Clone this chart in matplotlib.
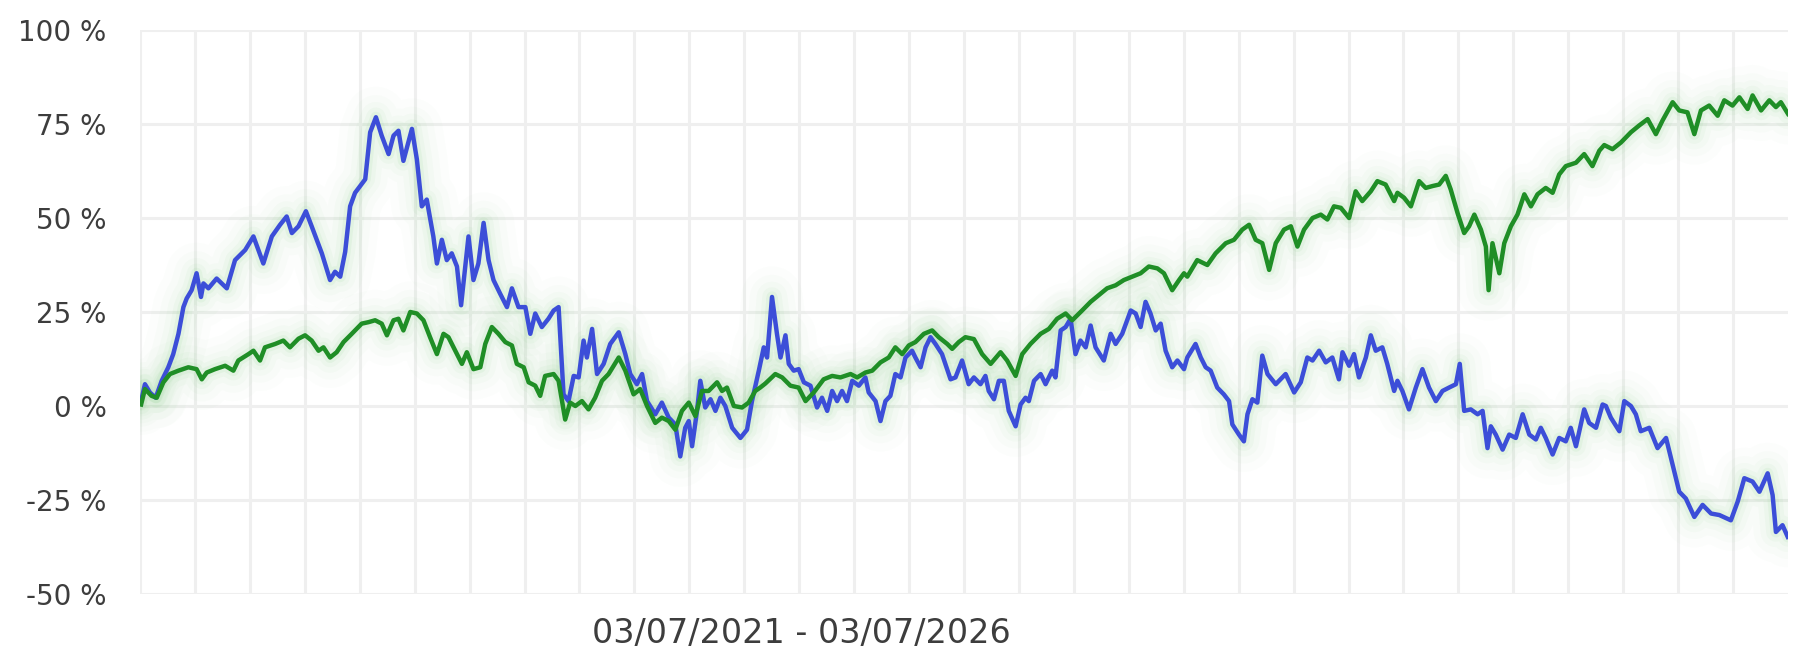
import matplotlib
matplotlib.use("Agg")
import matplotlib.pyplot as plt

# months since 03/07/2021 and cumulative return (%)
blue_t = [0.04, 0.18, 0.36, 0.57, 0.79, 1.03, 1.21, 1.40, 1.58, 1.70, 1.88, 2.06, 2.22, 2.31, 2.49,
          2.79, 3.16, 3.46, 3.83, 4.13, 4.49, 4.80, 5.10, 5.34, 5.53, 5.77, 6.04, 6.25, 6.62, 6.92,
          7.10, 7.29, 7.47, 7.65, 7.83, 8.20, 8.38, 8.59, 8.80, 9.05, 9.23, 9.41, 9.59, 9.90, 10.08,
          10.26, 10.44, 10.68, 10.81, 10.99, 11.17, 11.35, 11.54, 11.69, 11.96, 12.14, 12.32, 12.51,
          12.69, 12.87, 13.11, 13.36, 13.54, 13.78, 14.03, 14.21, 14.39, 14.63, 14.87, 15.06, 15.24,
          15.42, 15.60, 15.79, 15.97, 16.15, 16.27, 16.46, 16.64, 16.88, 17.12, 17.43, 17.67, 17.85,
          18.09, 18.28, 18.46, 18.76, 19.00, 19.25, 19.49, 19.67, 19.85, 19.98, 20.10, 20.28, 20.40,
          20.58, 20.77, 20.95, 21.13, 21.31, 21.56, 21.86, 22.10, 22.28, 22.53, 22.71, 22.83, 23.01,
          23.19, 23.32, 23.50, 23.62, 23.80, 23.98, 24.17, 24.41, 24.65, 24.83, 25.02, 25.20, 25.38,
          25.56, 25.74, 25.93, 26.17, 26.41, 26.53, 26.78, 26.96, 27.14, 27.32, 27.50, 27.69, 27.87,
          28.11, 28.23, 28.42, 28.60, 28.78, 28.96, 29.20, 29.51, 29.69, 29.93, 30.17, 30.36, 30.60,
          30.78, 30.90, 31.09, 31.27, 31.45, 31.63, 31.88, 32.06, 32.24, 32.36, 32.55, 32.79, 32.97,
          33.21, 33.33, 33.52, 33.70, 33.88, 34.06, 34.24, 34.43, 34.61, 34.79, 35.09, 35.34, 35.52,
          35.76, 36.07, 36.25, 36.43, 36.61, 36.79, 36.98, 37.16, 37.34, 37.58, 37.77, 38.01, 38.13,
          38.43, 38.62, 38.80, 38.98, 39.22, 39.46, 39.65, 39.77, 40.01, 40.19, 40.32, 40.50, 40.68,
          40.86, 41.05, 41.35, 41.71, 42.02, 42.26, 42.50, 42.69, 42.93, 43.17, 43.41, 43.65, 43.78,
          44.02, 44.20, 44.38, 44.63, 44.81, 44.99, 45.23, 45.41, 45.66, 45.78, 45.96, 46.20, 46.45,
          46.69, 46.93, 47.18, 47.42, 47.66, 47.91, 48.05, 48.21, 48.45, 48.70, 48.88, 49.06, 49.18,
          49.36, 49.61, 49.85, 50.09, 50.34, 50.58, 50.82, 51.00, 51.18, 51.43, 51.67, 51.91, 52.09,
          52.28, 52.58, 52.76, 53.01, 53.25, 53.37, 53.55, 53.86, 54.04, 54.28, 54.46, 54.64, 54.95,
          55.25, 55.56, 55.80, 56.04, 56.28, 56.59, 56.89, 57.20, 57.50, 57.92, 58.17, 58.41, 58.71,
          58.96, 59.26, 59.44, 59.56, 59.80, 59.99]
blue_v = [1.3, 5.8, 3.6, 2.2, 6.7, 10.3, 13.8, 19.2, 26.3, 28.6, 30.8, 35.3, 29.0, 32.6, 31.3,
          33.9, 31.3, 38.8, 41.5, 45.1, 37.9, 45.1, 48.2, 50.4, 46.0, 47.8, 51.8, 47.8, 40.6, 33.5,
          35.7, 34.4, 41.0, 53.1, 56.7, 60.3, 72.8, 76.8, 71.9, 67.0, 71.9, 73.2, 65.2, 73.7, 65.6,
          53.1, 54.9, 45.1, 37.9, 44.2, 38.8, 40.6, 37.1, 26.8, 45.1, 33.5, 37.9, 48.7,
          38.8, 33.5, 29.9, 26.3, 31.3, 26.3, 26.3, 19.2, 24.6, 21.0, 23.2, 25.4, 26.3,
          3.1, 1.3, 8.0, 7.6, 17.4, 12.9, 20.5, 8.5, 11.2, 16.5, 19.6, 13.8, 8.5,
          5.8, 8.5, 1.3, -2.2, 0.9, -3.1, -4.9, -13.4, -5.8, -4.0, -10.7, -1.3, 6.7,
          -0.4, 1.8, -1.3, 2.2, 0.0, -5.8, -8.5, -6.3, 1.3, 9.4, 15.6, 12.9, 29.0,
          19.2, 12.9, 18.8, 11.2, 9.4, 9.8, 6.3, 5.4, -0.4, 2.2, -1.3, 4.0, 1.3,
          4.0, 1.3, 6.7, 5.4, 7.6, 3.6, 1.3, -4.0, 1.3, 2.7, 8.5, 7.6, 12.9,
          14.7, 12.9, 10.3, 15.6, 18.3, 16.5, 13.8, 7.1, 7.6, 12.1, 5.8, 7.6, 5.8,
          8.0, 4.0, 1.8, 6.7, 6.7, -1.3, -5.4, 0.4, 2.2, 1.3, 6.7, 8.5, 5.8,
          9.4, 7.6, 20.1, 21.0, 23.2, 13.8, 17.4, 15.6, 21.4, 15.6, 12.1, 19.2, 16.5,
          19.2, 25.4, 24.6, 21.0, 27.7, 24.6, 20.1, 21.9, 14.7, 10.3, 12.1, 9.8, 12.9,
          16.5, 12.9, 10.3, 9.4, 4.9, 3.1, 1.3, -4.9, -7.6, -9.4, -2.2, 1.8, 0.9,
          13.4, 8.5, 5.8, 8.5, 3.6, 6.3, 12.9, 12.1, 14.7, 11.6, 12.9, 7.1, 14.3,
          10.7, 13.8, 7.6, 12.9, 18.8, 14.7, 15.6, 11.2, 4.0, 6.7, 4.0, -0.9, 4.9,
          9.8, 4.9, 1.3, 4.0, 4.9, 5.8, 11.2, -1.3, -0.9, -2.2, -1.3, -11.2, -5.4,
          -7.6, -11.6, -7.6, -8.5, -2.2, -7.6, -8.9, -5.8, -8.5, -12.9, -8.5, -9.4, -5.8,
          -10.7, -0.9, -4.5, -5.8, 0.4, 0.0, -3.1, -6.7, 1.3, 0.0, -2.2, -6.7, -5.8,
          -11.2, -8.5, -15.6, -22.8, -24.6, -29.5, -26.3, -28.6, -29.0, -30.4, -25.4, -19.2, -20.1,
          -22.8, -17.9, -23.7, -33.5, -31.7, -34.8]

green_t = [0.04, 0.18, 0.42, 0.61, 0.85, 1.09, 1.40, 1.76, 2.06, 2.25, 2.43, 2.73, 3.10, 3.40, 3.58,
           3.95, 4.13, 4.37, 4.55, 4.92, 5.22, 5.46, 5.77, 6.01, 6.25, 6.50, 6.68, 6.92, 7.16, 7.41,
           7.71, 8.07, 8.32, 8.56, 8.80, 8.99, 9.23, 9.41, 9.59, 9.84, 10.08, 10.32, 10.56, 10.81,
           11.05, 11.23, 11.48, 11.72, 11.90, 12.14, 12.39, 12.57, 12.81, 13.05, 13.30, 13.54, 13.72,
           13.97, 14.15, 14.39, 14.57, 14.75, 15.06, 15.24, 15.48, 15.66, 15.85, 16.09, 16.33, 16.57,
           16.82, 17.06, 17.43, 17.67, 17.97, 18.21, 18.46, 18.76, 19.00, 19.25, 19.49, 19.73, 19.98,
           20.22, 20.46, 20.70, 21.01, 21.19, 21.37, 21.62, 21.92, 22.16, 22.40, 22.58, 22.77, 23.13,
           23.38, 23.68, 23.98, 24.23, 24.53, 24.89, 25.20, 25.50, 25.87, 26.11, 26.41, 26.66, 26.96,
           27.26, 27.50, 27.75, 27.99, 28.23, 28.54, 28.84, 29.08, 29.39, 29.57, 29.81, 30.05, 30.36,
           30.66, 30.97, 31.33, 31.57, 31.88, 32.12, 32.42, 32.79, 33.09, 33.39, 33.70, 33.94, 34.30,
           34.61, 34.91, 35.21, 35.52, 35.82, 36.12, 36.43, 36.73, 37.04, 37.28, 37.58, 37.83, 38.01,
           38.13, 38.49, 38.86, 39.16, 39.53, 39.83, 40.13, 40.38, 40.62, 40.86, 41.11, 41.35, 41.65,
           41.90, 42.14, 42.38, 42.69, 42.99, 43.23, 43.47, 43.72, 44.02, 44.26, 44.50, 44.81, 45.05,
           45.35, 45.66, 45.78, 46.02, 46.27, 46.57, 46.81, 47.06, 47.30, 47.54, 47.72, 47.97, 48.21,
           48.39, 48.58, 48.82, 49.00, 49.10, 49.24, 49.49, 49.67, 49.91, 50.15, 50.40, 50.64, 50.88,
           51.18, 51.43, 51.67, 51.91, 52.28, 52.58, 52.88, 53.13, 53.31, 53.61, 53.92, 54.28, 54.58,
           54.89, 55.19, 55.43, 55.80, 56.04, 56.34, 56.59, 56.83, 57.13, 57.44, 57.68, 57.98, 58.23,
           58.53, 58.71, 59.02, 59.32, 59.56, 59.74, 60.0]
green_v = [0.4, 4.5, 2.7, 2.2, 6.3, 8.5, 9.4, 10.3, 9.8, 7.1, 8.9, 9.8, 10.7, 9.4, 12.1,
           13.8, 14.7, 12.1, 15.6, 16.5, 17.4, 15.6, 17.9, 18.8, 17.4, 14.7, 15.6, 12.9, 14.3, 17.0,
           19.2, 21.9, 22.3, 22.8, 21.9, 18.8, 22.8, 23.2, 20.1, 25.0, 24.6, 22.8, 18.3, 13.8,
           19.2, 18.3, 14.7, 11.2, 14.3, 9.8, 10.3, 16.5, 21.0, 19.2, 17.0, 16.1, 11.2,
           10.3, 6.3, 5.4, 2.7, 8.0, 8.5, 6.7, -3.6, 0.9, 0.0, 1.3, -0.9, 2.2,
           6.7, 8.5, 12.9, 9.4, 3.1, 4.5, 0.0, -4.5, -3.1, -4.0, -6.3, -1.3, 0.9,
           -2.7, 4.0, 4.0, 6.3, 4.0, 4.9, 0.0, -0.4, 0.9, 4.0, 4.9, 6.0, 8.5,
           7.6, 5.4, 4.9, 1.3, 3.6, 7.1, 8.0, 7.6, 8.5, 7.6, 8.9, 9.4, 11.6,
           12.9, 15.6, 13.8, 16.1, 17.0, 19.2, 20.1, 18.3, 16.5, 15.2, 17.0, 18.3, 17.8,
           13.8, 11.2, 14.3, 12.1, 8.0, 13.8, 16.5, 19.2, 20.5, 23.2, 24.6, 22.8, 25.4,
           27.7, 29.5, 31.3, 32.1, 33.5, 34.4, 35.3, 37.1, 36.6, 35.3, 30.8, 33.5, 35.3,
           34.4, 38.8, 37.5, 40.6, 43.3, 44.2, 46.9, 48.2, 44.2, 43.3, 36.2, 43.3, 46.9,
           47.8, 42.4, 46.9, 50.0, 50.9, 49.6, 53.1, 52.7, 50.0, 57.1, 54.5, 57.1, 59.8,
           58.9, 54.5, 56.7, 55.4, 53.1, 59.8, 58.0, 58.5, 58.9, 61.2, 57.6, 51.3, 46.0,
           47.8, 50.9, 46.9, 42.4, 30.8, 43.3, 35.3, 43.3, 47.8, 50.9, 56.3, 53.1, 56.3,
           58.0, 56.7, 61.6, 63.8, 64.7, 67.0, 63.8, 67.9, 69.4, 68.3, 70.1, 72.8, 74.6,
           76.3, 72.3, 75.9, 80.8, 78.6, 78.1, 72.3, 78.6, 79.9, 77.2, 81.3, 79.9, 82.1,
           79.0, 82.6, 78.6, 81.3, 79.5, 80.8, 77.7]

y_ticks = [-50, -25, 0, 25, 50, 75, 100]
period = "03/07/2021 - 03/07/2026"

blue = "#3c4ed8"
green = "#1f8e26"
glow = "#6cc46c"
text_color = "#3d3d3d"

plt.rcParams['font.family'] = ['DejaVu Sans']

fig = plt.figure(figsize=(17.94, 6.5), dpi=100)
ax = fig.add_axes([140 / 1794, 1 - 594 / 650, 1648 / 1794, 564 / 650])

# soft green halo under both lines
for t, v in [(blue_t, blue_v), (green_t, green_v)]:
    for lw, a in [(44, 0.018), (32, 0.025), (22, 0.035), (14, 0.05), (8, 0.08)]:
        ax.plot(t, v, color=glow, lw=lw, alpha=a, solid_capstyle='round',
                solid_joinstyle='round', zorder=2)

ax.plot(blue_t, blue_v, color=blue, lw=3.2, solid_joinstyle='round', zorder=3)
ax.plot(green_t, green_v, color=green, lw=3.2, solid_joinstyle='round', zorder=4)

ax.set_xlim(0, 60)
ax.set_ylim(-50, 100)
ax.set_yticks(y_ticks)
ax.set_yticklabels([f"{v} %" for v in y_ticks], fontsize=20, color=text_color)
ax.set_xticks(range(0, 60, 2))
ax.set_xticklabels([])
ax.tick_params(length=0, pad=24)
ax.grid(True, color="#efefef", lw=2.2)
ax.set_axisbelow(True)
for s in ax.spines.values():
    s.set_visible(False)

fig.text(801 / 1794, 1 - 634 / 650, period, ha='center', va='center',
         fontsize=24, color=text_color)

fig.savefig("out.png", dpi=100, facecolor="white")
